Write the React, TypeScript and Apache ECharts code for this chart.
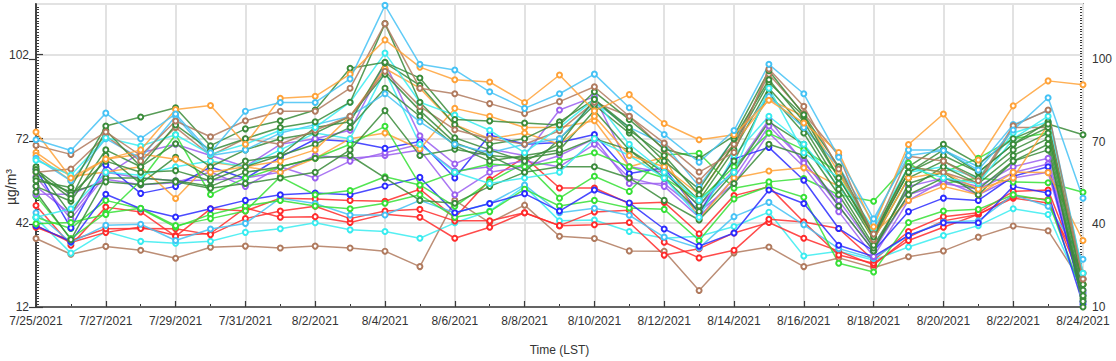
import React, { useEffect, useRef } from 'react';
import * as echarts from 'echarts';

const dates = ['7/25/2021','7/26/2021','7/27/2021','7/28/2021','7/29/2021','7/30/2021','7/31/2021','8/1/2021','8/2/2021','8/3/2021','8/4/2021','8/5/2021','8/6/2021','8/7/2021','8/8/2021','8/9/2021','8/10/2021','8/11/2021','8/12/2021','8/13/2021','8/14/2021','8/15/2021','8/16/2021','8/17/2021','8/18/2021','8/19/2021','8/20/2021','8/21/2021','8/22/2021','8/23/2021','8/24/2021'];

const orange1 = [74.4, 58, 64.7, 68, 82.4, 83.8, 70, 86.4, 87.1, 95, 107.2, 97.5, 93, 92.2, 84.9, 94.7, 81.9, 87.7, 77.4, 71.6, 73.4, 85.7, 77.6, 67.1, 40.6, 69.9, 80.8, 64.4, 83.7, 92.6, 91.2];
const orange2 = [67.1, 58.5, 60.1, 62, 50.7, 63.6, 62, 60, 65, 72, 74, 68.3, 82.8, 80, 76, 76, 78.4, 62, 65.4, 43.3, 58, 60.5, 61.6, 55, 38, 50, 55, 52, 60, 59.9, 35.7];
const orange3 = [66, 57, 64.7, 66.5, 64.7, 60, 62, 64, 68, 80, 97, 90, 77, 72, 74, 70, 80, 66, 62, 52, 70, 86, 80, 60, 36, 58, 60, 54, 58, 77, 24];
const lightBlue1 = [71.6, 67.8, 81.1, 72, 80.8, 67, 81.8, 84.9, 84.9, 93.3, 119.5, 98.5, 96.5, 88.7, 82.8, 88, 95, 83, 73.5, 63.6, 74.9, 98.5, 88, 65.4, 43.4, 66, 67.8, 60.8, 75.1, 86.6, 50.8];
const lightBlue2 = [45.6, 35, 41.1, 41.5, 35.7, 39.8, 41.8, 50.8, 48.9, 44.8, 44.8, 50, 45.6, 48.9, 55.5, 45.6, 47.2, 44.7, 36.9, 33, 44.2, 49.3, 41.3, 32.8, 29.3, 37.5, 42.3, 42.7, 52, 47.9, 29];
const lightBlue3 = [65, 57, 72, 65, 80, 66, 68, 74, 77, 80, 88, 78, 70, 67, 70, 72, 85, 76, 70, 55, 72, 87, 76, 62, 42, 68, 68, 62, 77, 82, 24];
const cyan1 = [64.3, 59, 72.3, 69.4, 73.4, 66.4, 70, 75, 76, 85, 102.5, 85, 80.4, 75, 67, 76, 86, 70, 60, 50, 60, 90, 67, 58, 40, 62, 58, 56, 72, 80, 24];
const cyan2 = [44, 47, 60, 59, 62, 64, 62, 68, 74, 72, 96, 70, 60, 56, 58, 60, 72, 66, 58, 44, 66, 80, 70, 55, 38, 60, 62, 58, 74, 78, 22];
const cyanLow = [43.7, 31.2, 38.9, 35.4, 34.7, 35.4, 38.6, 39.9, 42, 39.5, 38.9, 36.5, 42, 46.2, 55, 42.7, 43, 38.9, 36.5, 37.2, 40.7, 45.8, 30.2, 31.9, 28.7, 33.4, 37.5, 41, 47, 45, 17];
const brown1 = [69.6, 66.4, 74.4, 66, 78.3, 72.7, 78.4, 81.8, 81.8, 90, 113, 90, 88, 84.5, 81, 85.2, 90.5, 80, 70.4, 60.1, 67.1, 96.8, 83.5, 61.2, 38, 65.7, 64, 57, 76.6, 82.2, 22];
const brown2 = [60, 61.2, 73, 64, 76, 66, 72, 70, 75, 80, 96, 83.5, 75.2, 72, 70, 74.8, 85, 80, 68, 57, 70, 95, 81, 66, 36, 62, 60, 56, 76, 76, 22];
const brownLow = [36.4, 30.8, 33.6, 32.2, 29.4, 33.3, 33.7, 33, 33.7, 33, 31.9, 26.4, 50, 42.1, 48.3, 37.2, 36.4, 32, 31.9, 17.9, 31.3, 33.4, 26.4, 29.5, 26, 29.9, 32, 36.9, 40.9, 39.2, 20];
const darkGreen1 = [57, 54.6, 76.5, 79.7, 83, 69.5, 75.5, 78.4, 82.2, 97.1, 99.2, 93.6, 78.8, 78.3, 77.6, 76.9, 88.7, 78.8, 68.3, 65, 73, 96.2, 80.5, 62, 38, 62, 70, 63, 72, 77.2, 73.4];
const darkGreen2 = [60.1, 50.7, 75, 62, 76.9, 67.8, 72, 76, 78, 85, 113, 85, 72.3, 68, 64, 70, 86, 76, 64, 54, 72, 93, 78, 58, 37, 60, 66, 60, 70, 76, 18];
const darkGreen3 = [55, 49.7, 68, 62, 70.2, 62, 68, 72, 74, 80, 95, 82, 70.6, 66, 60, 72, 84, 74, 62, 50, 68, 90, 76, 56, 36, 58, 64, 58, 68, 74, 16];
const darkGreen4 = [62, 45, 66, 56, 65.4, 58, 64, 66, 70, 76, 90, 80, 69.5, 64, 66, 68, 82, 68, 60, 48, 64, 88, 74, 54, 34, 54, 62, 56, 66, 72, 14];
const darkGreen5 = [58, 53, 56.6, 55.6, 56.6, 54.3, 56, 58, 60, 68, 82, 66, 68.2, 66, 65, 67, 72, 68, 58, 46, 60, 78, 70, 52, 33, 52, 58, 54, 64, 70, 12];
const darkGreen6 = [61, 52, 64, 60, 60.6, 57, 62, 66, 76, 78, 99, 91, 77, 70, 72, 78, 86, 75, 66, 52, 70, 92, 80, 58, 38, 60, 68, 60, 70, 78, 20];
const darkGreen7 = [53, 36, 58, 58, 57, 55, 60, 62, 65, 66, 58, 50, 49, 55, 60, 62, 62, 58, 50, 43, 56, 70, 66, 48, 32, 56, 60, 52, 64, 68, 15];
const blue1 = [61.2, 40.2, 62.6, 52.5, 55, 61.9, 57.8, 65.4, 71.8, 71, 68.6, 71, 58, 73.3, 70, 70.6, 73.5, 59.6, 61.6, 45.6, 64.8, 68.9, 57.2, 40, 32, 46, 50.8, 50, 58.6, 62, 14];
const blue2 = [41, 35.3, 52.2, 47, 44.1, 47, 50, 52, 52.6, 52, 55.1, 58.2, 45.6, 48.9, 52.4, 46.2, 53.7, 49.1, 39.8, 33.7, 38.4, 53.7, 48.9, 34, 30, 37.5, 42, 42, 55, 52.6, 13];
const purple1 = [58.4, 43.4, 59, 67, 70, 66, 62, 70, 72, 75, 99, 73, 63, 68.3, 66, 82.2, 87, 62, 60, 48, 60.8, 78.8, 63.3, 50, 33, 55, 58, 55, 62, 65, 18];
const purple2 = [52.2, 52.2, 57.5, 55.6, 56.3, 60.1, 55, 62, 58, 64, 67, 70, 60.5, 62, 64, 62, 70, 58, 55, 44, 58, 76.5, 64, 48, 32, 52, 56, 54, 60, 63, 17];
const purple3 = [55, 45, 60, 58, 57, 57.3, 58, 60, 66, 65, 66, 68, 52, 60, 62, 66, 72, 56, 56, 46, 56, 74, 62, 46, 30, 50, 57, 52, 58, 60, 16];
const green1 = [51.7, 36.4, 45.5, 47.2, 41, 43.5, 46.2, 58.4, 52, 53.5, 58.4, 55.5, 47.9, 56.6, 63.3, 50.8, 58.6, 53.2, 66.3, 66.8, 54.3, 56.6, 57.8, 52, 49.7, 63.3, 56, 58, 56.6, 56.3, 52.9];
const green2 = [44, 40, 50, 47, 40.5, 45, 48, 50, 48, 47, 49, 52, 44, 46, 54, 48, 50, 47.3, 46.8, 35.7, 50.5, 55, 51.1, 27.6, 24.5, 42.1, 46.2, 46.8, 52, 50, 16];
const green3 = [41.7, 42.1, 45, 57, 73.4, 52.1, 58, 62, 65, 70, 76.4, 55.5, 60, 63, 62, 64, 67, 62, 58, 50, 62, 74, 68, 60, 38, 62, 60, 65, 72, 74, 20];
const red1 = [48.2, 34, 47.6, 45.9, 37.2, 47, 46.2, 50.8, 50.5, 50, 49.7, 54, 43.8, 57.4, 65.4, 54.4, 54.4, 48.9, 49.3, 38.1, 51.7, 54.9, 42.3, 40, 28.7, 38.9, 44.2, 45.6, 53.2, 53.7, 22];
const red2 = [40.4, 35.7, 39.9, 40, 39.9, 37.8, 43.5, 46.2, 47.9, 43.5, 46.2, 46.8, 42.7, 42.7, 45.6, 41, 45.9, 46.5, 35.1, 29.5, 32.2, 43.3, 42.3, 30.5, 27.6, 35.7, 40.4, 45, 51.4, 50.3, 20];
const red3 = [41, 35, 38.6, 40.5, 37.5, 38.2, 47.3, 44, 44.2, 42.1, 45.1, 44, 36.5, 40.4, 45.6, 41, 41.3, 42.1, 30.5, 32.8, 38.4, 42.1, 36.5, 31.9, 27, 36.9, 42.7, 45, 50.8, 49.1, 24];

const C = {
  orange: '#ffa238',
  lightBlue: '#45c2f5',
  cyan: '#38ecf0',
  brown: '#b07a5e',
  darkGreen: '#3a8b3a',
  green: '#36e036',
  blue: '#2b2bff',
  purple: '#9b5ff0',
  red: '#ff2b2b',
};

const seriesList: [string, string, number[]][] = [
  ['Site 1', C.brown, brownLow],
  ['Site 2', C.cyan, cyanLow],
  ['Site 3', C.red, red3],
  ['Site 4', C.red, red2],
  ['Site 5', C.red, red1],
  ['Site 6', C.lightBlue, lightBlue2],
  ['Site 7', C.green, green2],
  ['Site 8', C.blue, blue2],
  ['Site 9', C.green, green1],
  ['Site 10', C.purple, purple3],
  ['Site 11', C.purple, purple2],
  ['Site 12', C.blue, blue1],
  ['Site 13', C.purple, purple1],
  ['Site 14', C.orange, orange2],
  ['Site 15', C.green, green3],
  ['Site 16', C.darkGreen, darkGreen7],
  ['Site 17', C.darkGreen, darkGreen5],
  ['Site 18', C.cyan, cyan2],
  ['Site 19', C.darkGreen, darkGreen4],
  ['Site 20', C.darkGreen, darkGreen3],
  ['Site 21', C.orange, orange3],
  ['Site 22', C.lightBlue, lightBlue3],
  ['Site 23', C.darkGreen, darkGreen6],
  ['Site 24', C.brown, brown2],
  ['Site 25', C.cyan, cyan1],
  ['Site 26', C.darkGreen, darkGreen2],
  ['Site 27', C.darkGreen, darkGreen1],
  ['Site 28', C.brown, brown1],
  ['Site 29', C.orange, orange1],
  ['Site 30', C.lightBlue, lightBlue1],
];

const FONT = '"Liberation Sans", Arial, sans-serif';
const TXT = '#333';
const AX = '#3a3a3a';

export default function App() {
  const ref = useRef<HTMLDivElement>(null);
  useEffect(() => {
    if (!ref.current) return;
    const chart = echarts.init(ref.current, null, { renderer: 'svg' });
    const label = { fontSize: 12, color: TXT, fontFamily: FONT };
    const minorAxis = (extra: any) => ({
      type: 'value',
      interval: 1,
      axisLine: { show: false },
      axisLabel: { show: false },
      splitLine: { show: false },
      axisTick: { show: true, inside: true, length: 3, lineStyle: { color: AX, width: 1 } },
      ...extra,
    });
    chart.setOption({
      animation: false,
      backgroundColor: '#ffffff',
      textStyle: { fontFamily: FONT },
      grid: { left: 36, right: 33, top: 4, bottom: 48, show: true, borderColor: '#4a4a4a', borderWidth: 1.5, backgroundColor: 'transparent' },
      xAxis: [
        {
          type: 'value',
          min: 0,
          max: dates.length - 1,
          interval: 2,
          name: 'Time (LST)',
          nameLocation: 'middle',
          nameGap: 37,
          nameTextStyle: { fontSize: 12, color: TXT, fontFamily: FONT },
          axisLine: { show: true, lineStyle: { color: AX, width: 1.5 } },
          axisTick: { show: true, inside: true, length: 6, lineStyle: { color: AX, width: 1.2 } },
          axisLabel: { ...label, margin: 8, formatter: (v: number) => dates[Math.round(v)] ?? '' },
          splitLine: { show: true, lineStyle: { color: '#e2e2e2', width: 2 } },
          z: 3,
        },
        minorAxis({ min: 0, max: dates.length - 1, position: 'bottom' }),
      ],
      yAxis: [
        {
          type: 'value',
          min: 12,
          max: 120,
          interval: 30,
          position: 'left',
          axisLine: { show: true, lineStyle: { color: AX, width: 1.5 } },
          axisTick: { show: true, inside: true, length: 7, lineStyle: { color: AX, width: 1.2 } },
          axisLabel: { ...label, margin: 7, showMaxLabel: false },
          splitLine: { show: true, lineStyle: { color: '#e2e2e2', width: 2 } },
          z: 3,
        },
        {
          type: 'value',
          min: 10,
          max: 120,
          interval: 30,
          position: 'right',
          axisLine: { show: true, lineStyle: { color: AX, width: 1.5 } },
          axisTick: { show: true, inside: true, length: 7, lineStyle: { color: AX, width: 1.2 } },
          axisLabel: { ...label, margin: 9, showMaxLabel: false },
          splitLine: { show: false },
          z: 3,
        },
        minorAxis({ min: 12, max: 120, position: 'left' }),
        minorAxis({ min: 10, max: 120, position: 'right' }),
      ],
      graphic: [
        {
          type: 'text',
          x: 11,
          y: 187,
          rotation: Math.PI / 2,
          style: { text: 'µg/m³', fontSize: 14, fill: TXT, fontFamily: FONT, align: 'center', verticalAlign: 'middle' },
        },
      ],
      series: seriesList.map(([name, color, vals]) => ({
        type: 'line',
        name,
        xAxisIndex: 0,
        yAxisIndex: 0,
        data: vals.map((v, i) => [i, v]),
        symbol: 'emptyCircle',
        symbolSize: 5,
        lineStyle: { color, width: 1.5, opacity: 0.85 },
        itemStyle: { color, borderColor: color, borderWidth: 1.2 },
        emphasis: { disabled: true },
        clip: true,
      })),
    });
    return () => chart.dispose();
  }, []);
  return <div ref={ref} style={{ position: 'fixed', left: 0, top: 0, width: 1116, height: 361 }} />;
}
